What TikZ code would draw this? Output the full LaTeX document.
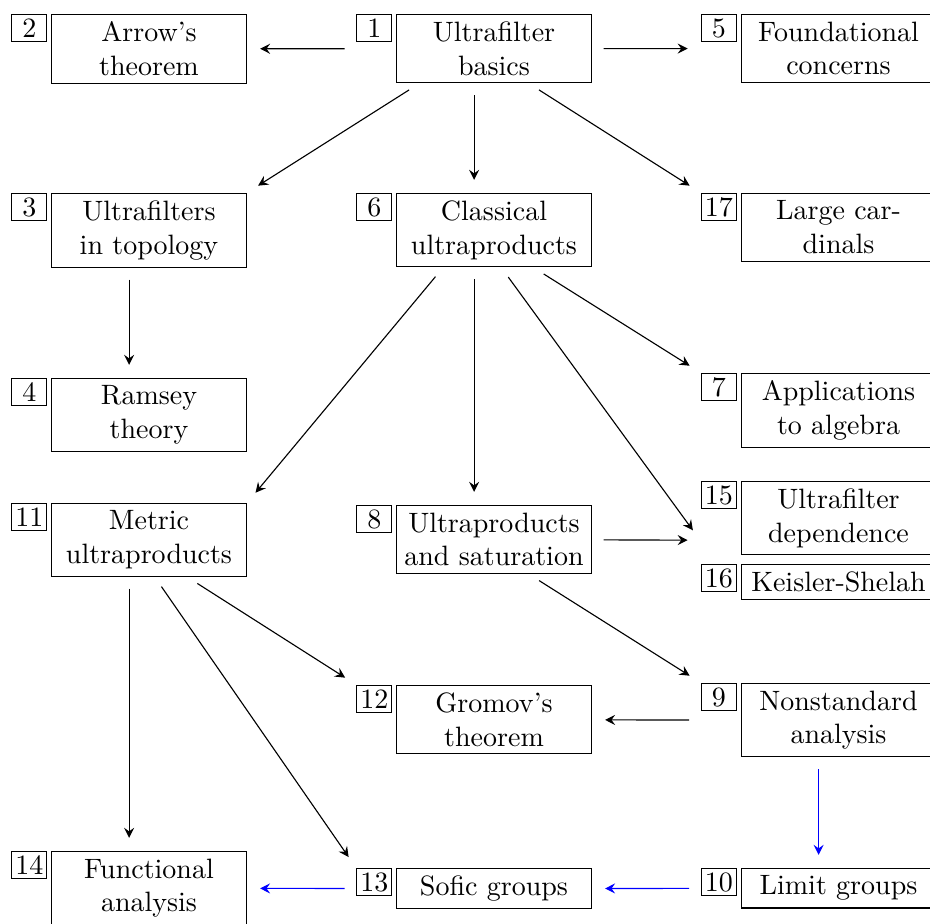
\documentclass[tikz,border=0pt]{standalone}
\usepackage{tikz}
\usetikzlibrary{positioning}
\usetikzlibrary{fit}
\usetikzlibrary{arrows.meta}

\begin{document}
\begin{tikzpicture}[
    x = 0.3571pt, y = -0.3571pt,
    >= {Stealth[length=3.6pt, width=3.6pt, inset=1.3pt]},
    topic/.style = {draw, text width = 64.3pt, align = center, inner sep = 2.6pt, anchor = north},
    num/.style = {draw, inner sep = 1.2pt, minimum width = 12.4pt, minimum height = 9.6pt, anchor = north east},
    cell/.style = {inner sep = 0pt},
    arr/.style = {->, shorten <= 4pt, shorten >= 4.5pt}
    ]
    \useasboundingbox (0,0) rectangle (930,923);

    % topics
    \node[topic] (b1) at (494,14) {Ultrafilter\\basics};
    \node[topic] (b2) at (149,14) {Arrow's\\theorem};
    \node[topic] (b5) at (838.5,14) {Foundational\\concerns};
    \node[topic] (b3) at (149,193) {Ultrafilters\\in topology};
    \node[topic] (b6) at (494,193) {Classical\\ultraproducts};
    \node[topic] (b17) at (838.5,193) {Large car-\\dinals};
    \node[topic] (b4) at (149,378) {Ramsey\\theory};
    \node[topic] (b7) at (838.5,373) {Applications\\to algebra};
    \node[topic] (b11) at (149,503) {Metric\\ultraproducts};
    \node[topic] (b8) at (494,505) {Ultraproducts\\and saturation};
    \node[topic] (b15) at (838.5,481) {Ultrafilter\\dependence};
    \node[topic] (b16) at (838.5,564) {Keisler-Shelah};
    \node[topic] (b12) at (494,685) {Gromov's\\theorem};
    \node[topic] (b9) at (838.5,683) {Nonstandard\\analysis};
    \node[topic] (b14) at (149,851) {Functional\\analysis};
    \node[topic] (b13) at (494,868) {Sofic groups};
    \node[topic] (b10) at (838.5,868) {Limit groups};

    % numbers
    \foreach \i in {1,...,17}
        \node[num] (n\i) at ([xshift=-1.4pt]b\i.north west) {\i};

    % cells
    \foreach \i in {1,...,14,17}
        \node[cell, fit=(n\i)(b\i)] (c\i) {};
    \node[cell, fit=(n15)(b15)(n16)(b16)] (c15) {};

    % arrows
    \draw[arr] (c1) -- (c2);
    \draw[arr] (c1) -- (c5);
    \draw[arr] (c1) -- (c3.north east);
    \draw[arr] (c1) -- (c6);
    \draw[arr] (c1) -- (c17.north west);
    \draw[arr] (c3) -- (c4);
    \draw[arr] (c6) -- (c11.north east);
    \draw[arr] (c6) -- (c8);
    \draw[arr] (c6) -- (c15.west);
    \draw[arr] (c6) -- (c7.north west);
    \draw[arr] (c8) -- (c15);
    \draw[arr] (c8) -- (c9.north west);
    \draw[arr] (c11) -- (c14);
    \draw[arr] (c11) -- (c13.north west);
    \draw[arr] (c11) -- (c12.north west);
    \draw[arr] (c9) -- (c12);
    \draw[arr, blue] (c9) -- (c10);
    \draw[arr, blue] (c10) -- (c13);
    \draw[arr, blue] (c13) -- (c14);
\end{tikzpicture}
\end{document}
